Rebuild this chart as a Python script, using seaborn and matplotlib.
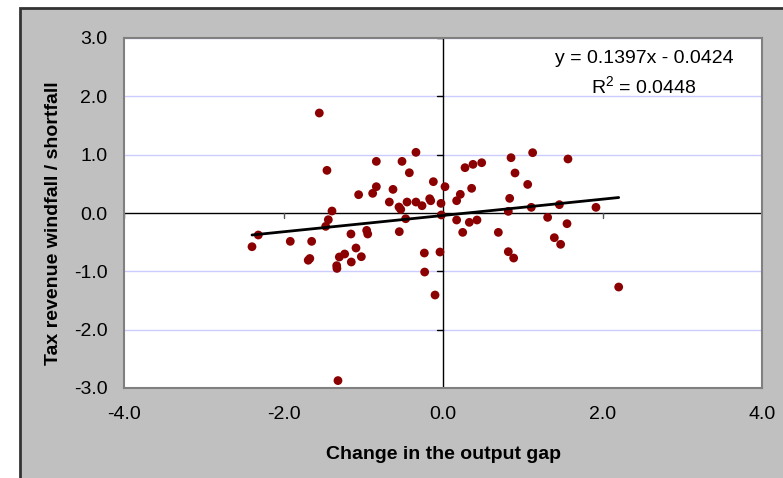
import numpy as np
import pandas as pd
import matplotlib
matplotlib.use("Agg")
import matplotlib.pyplot as plt
import seaborn as sns
from matplotlib.patches import Rectangle

# change in the output gap (x) vs tax revenue windfall / shortfall (y)
output_gap = [
    -1.551, -1.455, -0.836, -0.514, -0.339, -0.422, -0.121, 0.025, -0.836, -0.627,
    -1.058, -0.882, -0.673, -0.451, -0.339, -0.167, -0.154, -0.263, -0.025, -0.552,
    -0.530, 0.171, -1.392, -1.438, -0.468, -0.021, 0.171,
    -1.471, -2.316, -2.395, -1.915, -1.647, -1.690, -1.670, -1.333, -1.330, -1.300,
    -1.233, -1.150, -1.091, -1.024, -1.154, -0.957, -0.944, -0.548, -0.234, -0.038,
    -0.230, -0.100, -1.317,
    0.276, 0.376, 0.485, 0.217, 0.359, 0.330, 0.426, 0.247, 0.694, 0.853,
    1.124, 1.567, 0.903, 1.062, 0.836, 0.819, 1.107, 1.459, 1.918, 1.312,
    1.555, 1.396, 1.475, 0.819, 0.886, 2.203,
]
tax_windfall = [
    1.714, 0.731, 0.885, 0.885, 1.040, 0.690, 0.537, 0.451, 0.451, 0.405,
    0.314, 0.337, 0.188, 0.188, 0.188, 0.245, 0.210, 0.125, 0.165, 0.103,
    0.062, 0.211, 0.034, -0.115, -0.098, -0.034, -0.120,
    -0.229, -0.377, -0.578, -0.486, -0.486, -0.810, -0.780, -0.903, -0.950, -0.754,
    -0.703, -0.840, -0.600, -0.749, -0.360, -0.298, -0.360, -0.320, -0.686, -0.669,
    -1.012, -1.406, -2.873,
    0.777, 0.834, 0.862, 0.320, 0.423, -0.160, -0.120, -0.332, -0.332, 0.948,
    1.034, 0.926, 0.686, 0.490, 0.251, 0.028, 0.097, 0.143, 0.097, -0.075,
    -0.183, -0.423, -0.537, -0.663, -0.772, -1.269,
]

# trend line as reported on the chart
slope = 0.1397
intercept = -0.0424
r_squared = 0.0448

x_ticks = [-4.0, -2.0, 0.0, 2.0, 4.0]
y_ticks = [-3.0, -2.0, -1.0, 0.0, 1.0, 2.0, 3.0]

df = pd.DataFrame({"gap": output_gap, "tax": tax_windfall})
x_fit = np.array([df["gap"].min(), df["gap"].max()])
df_fit = pd.DataFrame({"gap": x_fit, "tax": slope * x_fit + intercept})

sns.set_style("white")
plt.rcParams["font.family"] = ["Liberation Sans", "DejaVu Sans"]
plt.rcParams["text.color"] = "black"
plt.rcParams["axes.labelcolor"] = "black"
plt.rcParams["xtick.color"] = "black"
plt.rcParams["ytick.color"] = "black"

fig = plt.figure(figsize=(7.83, 4.78), dpi=100)
fig.patch.set_facecolor("white")
# grey chart area with a dark frame on top / left, as in the source
fig.patches.append(Rectangle((20 / 783, -0.05), 1.05, 1 - 8 / 478 + 0.05,
                             transform=fig.transFigure, facecolor="#C0C0C0",
                             edgecolor="#333333", linewidth=2, zorder=-10))

ax = fig.add_axes([124 / 783, 1 - 388 / 478, 638 / 783, 350 / 478])
ax.set_zorder(5)
ax.set_facecolor("white")

for y in y_ticks:
    if y != 0:
        ax.axhline(y, color="#CCCCFF", linewidth=1, zorder=1)
ax.axhline(0, color="black", linewidth=1, zorder=2)
ax.axvline(0, color="black", linewidth=1, zorder=2)

# small tick marks on the axes that cross at zero
for xt in x_ticks:
    ax.plot([xt, xt], [0, -0.09], color="#555555", linewidth=1, zorder=2)
for yt in y_ticks:
    ax.plot([0, -0.08], [yt, yt], color="black", linewidth=1, zorder=2)

sns.scatterplot(data=df, x="gap", y="tax", ax=ax, color="#8B0000",
                s=40, edgecolor="none", zorder=3, legend=False)
sns.lineplot(data=df_fit, x="gap", y="tax", ax=ax, color="black",
             linewidth=2, zorder=4)

ax.text(2.52, 2.39, f"y = {slope:.4f}x - {abs(intercept):.4f}\n$\\mathregular{{R^2}}$ = {r_squared:.4f}",
        ha="center", va="center", fontsize=14, linespacing=1.45, zorder=5)

ax.set_xlim(-4, 4)
ax.set_ylim(-3, 3)
ax.set_xticks(x_ticks)
ax.set_yticks(y_ticks)
ax.set_xticklabels([f"{v:.1f}" for v in x_ticks])
ax.set_yticklabels([f"{v:.1f}" for v in y_ticks])
ax.tick_params(axis="both", length=0, labelsize=14, colors="black")
ax.tick_params(axis="y", pad=12)
ax.tick_params(axis="x", pad=13)

ax.set_xlabel("Change in the output gap", fontsize=14, fontweight="bold")
ax.set_ylabel("Tax revenue windfall / shortfall", fontsize=14, fontweight="bold")
ax.xaxis.set_label_coords(0.5, -0.165)
ax.yaxis.set_label_coords(-0.097, 0.47)

for side in ["top", "bottom", "left", "right"]:
    ax.spines[side].set_visible(True)
    ax.spines[side].set_color("#808080")
    ax.spines[side].set_linewidth(1.5)

plt.savefig("out.png", dpi=100)
